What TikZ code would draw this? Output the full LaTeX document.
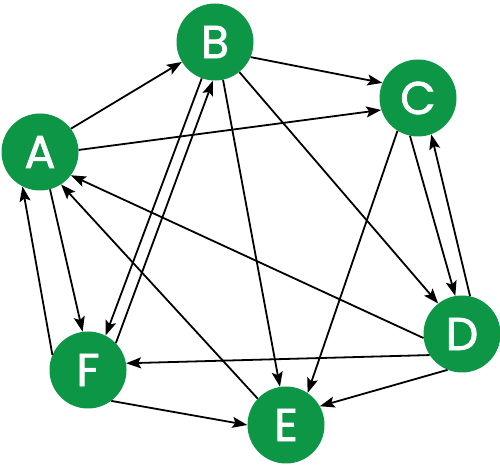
\documentclass[tikz,border=0pt]{standalone}
\usepackage{fontspec}
\setmainfont{Poppins}
\newfontfamily\vertexfont{Poppins}[FakeBold=1.6]
\usetikzlibrary{arrows.meta}
\definecolor{nodegreen}{RGB}{12,150,70}

\begin{document}
\begin{tikzpicture}[x=1pt,y=1pt,
  vertex/.style={circle,fill=nodegreen,minimum size=77pt,inner sep=0pt,text=white,font=\vertexfont\fontsize{46}{46}\selectfont},
  edge/.style={line width=1.8pt,-{Stealth[length=15pt,width=11pt,inset=3pt]}}]
\path[use as bounding box] (0,0) rectangle (500,465);
% vertices
\node[vertex] (A) at (40,313) {A};
\node[vertex] (B) at (215,423) {B};
\node[vertex] (C) at (418,367) {C};
\node[vertex] (D) at (462,131) {D};
\node[vertex] (E) at (286,40) {E};
\node[vertex] (F) at (88,95) {F};
% edges
\draw[edge] (A.37) -- (B.-149);
\draw[edge] (A.3) -- (C.-162);
\draw[edge] (B.-23) -- (C.157);
\draw[edge] (B.-51) -- (D.128);
\draw[edge] (B.-78) -- (E.99);
\draw[edge] (B.-110) -- (F.63);
\draw[edge] (F.44) -- (B.-93);
\draw[edge] (A.-75) -- (F.98);
\draw[edge] (F.157) -- (A.-117);
\draw[edge] (C.-102) -- (D.100);
\draw[edge] (D.78) -- (C.-70);
\draw[edge] (C.-122) -- (E.56);
\draw[edge] (D.-174) -- (A.-37);
\draw[edge] (D.-147) -- (F.10);
\draw[edge] (D.-112) -- (E.29);
\draw[edge] (E.137) -- (A.-57);
\draw[edge] (F.-53) -- (E.180);
\end{tikzpicture}
\end{document}
